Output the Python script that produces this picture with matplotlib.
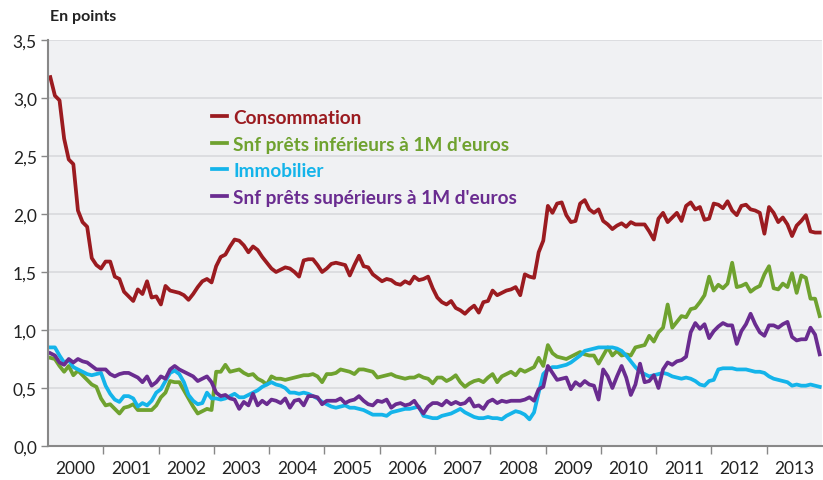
import matplotlib
matplotlib.use("Agg")
import matplotlib.pyplot as plt
import numpy as np

years = [str(y) for y in range(2000, 2014)]

consommation = [
    3.18, 3.02, 2.98, 2.65, 2.47, 2.43, 2.03, 1.93, 1.89, 1.62, 1.56, 1.53,
    1.59, 1.59, 1.46, 1.44, 1.33, 1.29, 1.25, 1.35, 1.31, 1.42, 1.28, 1.29,
    1.22, 1.38, 1.34, 1.33, 1.32, 1.30, 1.26, 1.31, 1.37, 1.42, 1.44, 1.41,
    1.55, 1.63, 1.65, 1.72, 1.78, 1.77, 1.73, 1.67, 1.72, 1.69, 1.63, 1.58,
    1.53, 1.50, 1.52, 1.54, 1.53, 1.50, 1.46, 1.60, 1.61, 1.61, 1.56, 1.50,
    1.53, 1.57, 1.58, 1.57, 1.56, 1.47, 1.56, 1.64, 1.55, 1.54, 1.48, 1.45,
    1.42, 1.44, 1.43, 1.40, 1.39, 1.42, 1.40, 1.46, 1.43, 1.44, 1.46, 1.36,
    1.28, 1.24, 1.22, 1.25, 1.19, 1.17, 1.14, 1.18, 1.21, 1.15, 1.24, 1.25,
    1.34, 1.30, 1.32, 1.34, 1.35, 1.37, 1.30, 1.48, 1.46, 1.45, 1.67, 1.77,
    2.07, 2.01, 2.09, 2.10, 1.99, 1.93, 1.94, 2.09, 2.12, 2.04, 2.01, 2.04,
    1.94, 1.91, 1.87, 1.90, 1.92, 1.89, 1.93, 1.91, 1.91, 1.91, 1.85, 1.78,
    1.96, 2.01, 1.93, 1.97, 2.01, 1.94, 2.07, 2.10, 2.04, 2.06, 1.95, 1.96,
    2.09, 2.08, 2.05, 2.11, 2.03, 1.99, 2.07, 2.08, 2.04, 2.03, 2.01, 1.83,
    2.06, 2.01, 1.93, 1.97, 1.91, 1.81, 1.90, 1.94, 1.99, 1.85, 1.84, 1.84,
]

snf_inf = [
    0.76, 0.75, 0.69, 0.64, 0.69, 0.61, 0.65, 0.61, 0.57, 0.53, 0.51, 0.41,
    0.35, 0.36, 0.32, 0.28, 0.33, 0.34, 0.36, 0.31, 0.31, 0.31, 0.31, 0.35,
    0.42, 0.46, 0.56, 0.55, 0.55, 0.48, 0.41, 0.34, 0.28, 0.30, 0.32, 0.31,
    0.64, 0.64, 0.70, 0.64, 0.65, 0.66, 0.63, 0.61, 0.62, 0.58, 0.56, 0.53,
    0.60, 0.58, 0.58, 0.57, 0.58, 0.59, 0.60, 0.61, 0.61, 0.62, 0.60, 0.55,
    0.62, 0.62, 0.63, 0.66, 0.65, 0.64, 0.62, 0.66, 0.66, 0.65, 0.64, 0.59,
    0.60, 0.61, 0.62, 0.60, 0.59, 0.58, 0.59, 0.59, 0.61, 0.59, 0.58, 0.54,
    0.59, 0.59, 0.56, 0.58, 0.61, 0.55, 0.51, 0.54, 0.56, 0.57, 0.55, 0.59,
    0.62, 0.55, 0.60, 0.62, 0.64, 0.61, 0.66, 0.64, 0.66, 0.68, 0.76, 0.69,
    0.87, 0.80, 0.77, 0.76, 0.75, 0.77, 0.79, 0.81, 0.79, 0.78, 0.78, 0.71,
    0.78, 0.85, 0.78, 0.82, 0.78, 0.79, 0.78, 0.85, 0.86, 0.87, 0.95, 0.90,
    0.98, 1.02, 1.22, 1.02, 1.07, 1.12, 1.11, 1.18, 1.19, 1.24, 1.30, 1.46,
    1.34, 1.39, 1.36, 1.40, 1.58, 1.37, 1.38, 1.40, 1.33, 1.36, 1.38, 1.48,
    1.55, 1.36, 1.35, 1.40, 1.37, 1.49, 1.32, 1.47, 1.45, 1.27, 1.27, 1.12,
]

immobilier = [
    0.85, 0.85, 0.78, 0.72, 0.74, 0.68, 0.66, 0.64, 0.62, 0.61, 0.62, 0.63,
    0.52, 0.45, 0.40, 0.38, 0.43, 0.43, 0.41, 0.34, 0.37, 0.35, 0.39, 0.46,
    0.49, 0.56, 0.63, 0.65, 0.62, 0.55, 0.44, 0.39, 0.36, 0.37, 0.46, 0.41,
    0.41, 0.40, 0.41, 0.43, 0.45, 0.42, 0.42, 0.44, 0.46, 0.48, 0.51, 0.53,
    0.55, 0.53, 0.52, 0.50, 0.46, 0.46, 0.45, 0.46, 0.45, 0.43, 0.41, 0.38,
    0.36, 0.34, 0.33, 0.34, 0.35, 0.33, 0.33, 0.32, 0.31, 0.29, 0.27, 0.27,
    0.27, 0.26, 0.29, 0.30, 0.31, 0.32, 0.32, 0.33, 0.34, 0.26, 0.25, 0.24,
    0.24, 0.26, 0.27, 0.28, 0.30, 0.32, 0.29, 0.27, 0.25, 0.24, 0.24, 0.25,
    0.24, 0.24, 0.23, 0.26, 0.28, 0.30, 0.29, 0.27, 0.23, 0.29, 0.46, 0.62,
    0.66, 0.68, 0.68, 0.69, 0.70, 0.72, 0.75, 0.78, 0.82, 0.83, 0.84, 0.85,
    0.85, 0.85, 0.85, 0.84, 0.82, 0.78, 0.73, 0.68, 0.64, 0.62, 0.60, 0.61,
    0.62, 0.63, 0.62, 0.60, 0.59, 0.58, 0.59, 0.58, 0.56, 0.53, 0.52, 0.56,
    0.57, 0.66, 0.67, 0.67, 0.67, 0.66, 0.66, 0.66, 0.65, 0.64, 0.64, 0.63,
    0.60, 0.58, 0.57, 0.56, 0.55, 0.52, 0.53, 0.52, 0.52, 0.53, 0.52, 0.51,
]

snf_sup = [
    0.80, 0.78, 0.72, 0.70, 0.75, 0.72, 0.75, 0.73, 0.72, 0.69, 0.66, 0.66,
    0.66, 0.62, 0.60, 0.62, 0.63, 0.63, 0.61, 0.59, 0.55, 0.60, 0.52, 0.55,
    0.60, 0.58, 0.66, 0.69, 0.66, 0.64, 0.62, 0.60, 0.56, 0.58, 0.60, 0.55,
    0.46, 0.43, 0.44, 0.41, 0.40, 0.32, 0.38, 0.35, 0.45, 0.35, 0.39, 0.36,
    0.40, 0.39, 0.37, 0.41, 0.33, 0.39, 0.40, 0.35, 0.43, 0.43, 0.42, 0.36,
    0.39, 0.39, 0.39, 0.41, 0.37, 0.39, 0.40, 0.43, 0.39, 0.36, 0.35, 0.39,
    0.38, 0.40, 0.33, 0.36, 0.37, 0.35, 0.36, 0.39, 0.33, 0.28, 0.34, 0.37,
    0.37, 0.35, 0.39, 0.36, 0.38, 0.36, 0.37, 0.41, 0.34, 0.35, 0.32, 0.38,
    0.40, 0.37, 0.39, 0.38, 0.39, 0.39, 0.39, 0.40, 0.42, 0.39, 0.49, 0.51,
    0.69, 0.63, 0.57, 0.58, 0.59, 0.49, 0.55, 0.52, 0.56, 0.53, 0.52, 0.40,
    0.66, 0.60, 0.50, 0.60, 0.69, 0.59, 0.44, 0.53, 0.71, 0.55, 0.56, 0.61,
    0.50, 0.66, 0.72, 0.70, 0.73, 0.74, 0.77, 0.98, 1.06, 1.01, 1.05, 0.93,
    0.99, 1.03, 1.06, 1.04, 1.04, 0.88, 0.99, 1.05, 1.14, 1.05, 0.98, 0.95,
    1.04, 1.04, 1.02, 1.05, 1.07, 0.94, 0.91, 0.92, 0.92, 1.02, 0.96, 0.79,
]

series_names = ["Consommation", "Snf prêts inférieurs à 1M d'euros",
                "Immobilier", "Snf prêts supérieurs à 1M d'euros"]
series_values = [consommation, snf_inf, immobilier, snf_sup]
colors = ["#9B1B20", "#6FA22F", "#14B4EA", "#6A2C90"]

plt.rcParams['font.family'] = ['Lato', 'DejaVu Sans']

fig = plt.figure(figsize=(8.23, 4.81), dpi=100)
ax = fig.add_axes([48/823, 1-447/481, 774/823, 406/481])
ax.set_facecolor("#F0F1F3")

n = len(consommation)
x = np.arange(n) + 0.5
for name, vals, c in zip(series_names, series_values, colors):
    ax.plot(x, vals, color=c, lw=2.7, solid_joinstyle='round', label=name)

ax.set_xlim(0, 168)
ax.set_ylim(0, 3.5)
yt = np.arange(0, 3.51, 0.5)
ax.set_yticks(yt)
ax.set_yticklabels([f"{v:.1f}".replace('.', ',') for v in yt], fontsize=12.5, color="#222222")
for v in yt[1:]:
    ax.axhline(v, color="#DCDDE0", lw=1.4, zorder=0)

ax.set_xticks(np.arange(12, 168, 12))
ax.set_xticklabels([])
ax.set_xticks(np.arange(6, 168, 12), minor=True)
ax.set_xticklabels(years, minor=True, fontsize=12.5, color="#222222")
ax.tick_params(axis='x', which='major', length=6, width=1, color="#888888", direction='out')
ax.tick_params(axis='x', which='minor', length=0, pad=10)
ax.tick_params(axis='y', length=5, width=1, color="#888888", direction='out', pad=3)

for s in ['top', 'right']:
    ax.spines[s].set_visible(False)
ax.spines['left'].set_color("#888888")
ax.spines['left'].set_linewidth(1.5)
ax.spines['bottom'].set_color("#888888")
ax.spines['bottom'].set_linewidth(1.5)

leg = ax.legend(loc='upper left', bbox_to_anchor=(0.19, 0.872), frameon=False,
                handlelength=0.8, handletextpad=0.3, labelspacing=0.5,
                prop={'weight': 'bold', 'size': 13.7})
for txt, c in zip(leg.get_texts(), colors):
    txt.set_color(c)

fig.text(50/823, 1-17/481, "En points", fontsize=11.5, weight='bold', color="#222222",
         va='center', ha='left')

fig.savefig("out.png", dpi=100, facecolor="white")
